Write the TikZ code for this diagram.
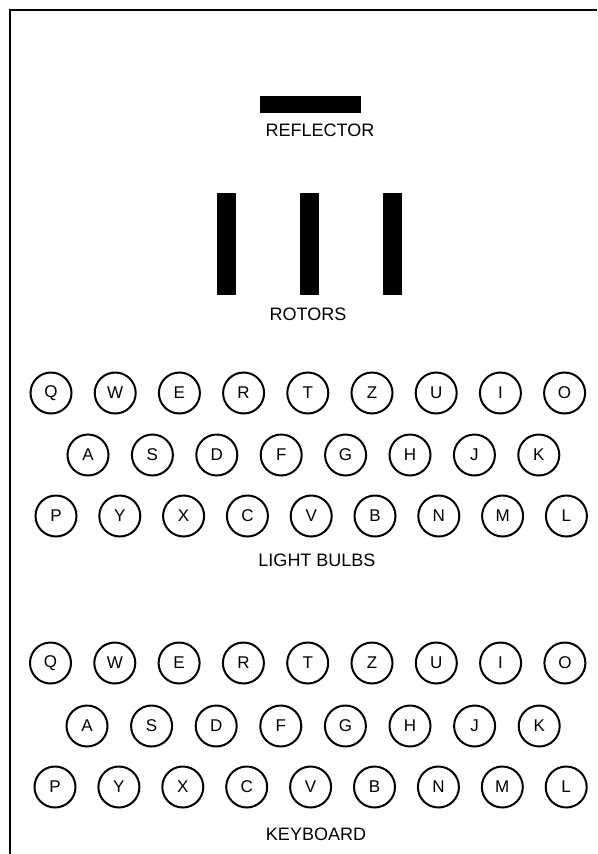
\documentclass[tikz,border=0pt]{standalone}
\usepackage{fontspec}
\setmainfont{Liberation Sans}
\usetikzlibrary{positioning}
\tikzset{
  % lamp / key circle
  keyc/.style={circle,draw=black,line width=2pt,
    minimum size=41pt,inner sep=0pt,
    font=\fontsize{17}{17}\selectfont},
  % solid black bar
  barbox/.style={rectangle,fill=black,inner sep=0pt},
  % caption under a group
  lbl/.style={font=\fontsize{18}{18}\selectfont,inner sep=0pt},
}
\begin{document}
\begin{tikzpicture}[x=1pt,y=-1pt]
  \useasboundingbox (0,0) rectangle (597,854);

  % frame
  \draw[line width=2pt] (10,854) -- (10,10) -- (597,10);

  % Reflector
  \node[barbox,minimum width=101pt,minimum height=17pt] (refl) at (310.5,104.5) {};
  \node[lbl] (refllbl) at (320,130) {REFLECTOR};

  % Rotors
  \foreach \x [count=\i] in {226.5,309,392}
    \node[barbox,minimum width=19pt,minimum height=102pt] (rot\i) at (\x,244) {};
  \node[lbl] (rotlbl) at (308,314) {ROTORS};

  % Light bulbs
  \foreach \c [count=\i from 0] in {Q,W,E,R,T,Z,U,I,O}
    \node[keyc] (l\c) at (51+64.2*\i,393) {\c};
  \foreach \c [count=\i from 0] in {A,S,D,F,G,H,J,K}
    \node[keyc] (l\c) at (88+64.4*\i,455) {\c};
  \foreach \c [count=\i from 0] in {P,Y,X,C,V,B,N,M,L}
    \node[keyc] (l\c) at (56+63.8*\i,516) {\c};
  \node[lbl] (lamplbl) at (317,560) {LIGHT BULBS};

  % Keyboard
  \foreach \c [count=\i from 0] in {Q,W,E,R,T,Z,U,I,O}
    \node[keyc] (k\c) at (50.5+64.3*\i,663) {\c};
  \foreach \c [count=\i from 0] in {A,S,D,F,G,H,J,K}
    \node[keyc] (k\c) at (87+64.6*\i,726) {\c};
  \foreach \c [count=\i from 0] in {P,Y,X,C,V,B,N,M,L}
    \node[keyc] (k\c) at (55+63.9*\i,787) {\c};
  \node[lbl] (keylbl) at (316,834) {KEYBOARD};
\end{tikzpicture}
\end{document}
